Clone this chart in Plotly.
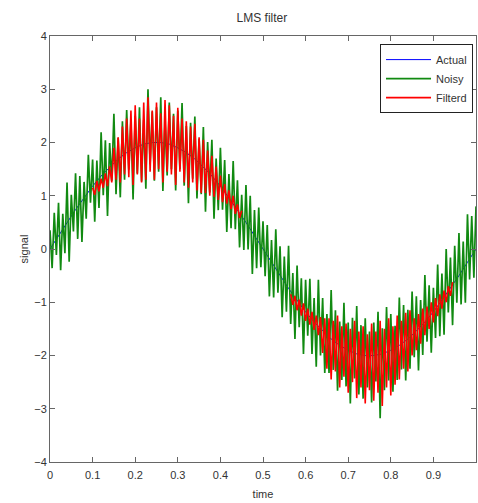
import plotly.graph_objects as go

# time grid (step 0.005)
time = [round(i * 0.005, 3) for i in range(201)]

# Actual (mostly hidden under the noisy trace), read every 0.02
actual_t = [round(i * 0.02, 2) for i in range(51)]
actual = [0.00, 0.25, 0.50, 0.74, 0.96, 1.18, 1.37, 1.54, 1.69, 1.81, 1.90, 1.97, 2.00,
          2.00, 1.97, 1.90, 1.81, 1.69, 1.54, 1.37, 1.18, 0.96, 0.74, 0.50, 0.25, 0.00,
          -0.25, -0.50, -0.74, -0.96, -1.18, -1.37, -1.54, -1.69, -1.81, -1.90, -1.97, -2.00,
          -2.00, -1.97, -1.90, -1.81, -1.69, -1.54, -1.37, -1.18, -0.96, -0.74, -0.50, -0.25, 0.00]

noisy = [
    0.35, -0.36, 0.68, -0.11, 0.87, -0.40, 0.66, -0.08, 1.25, -0.24,
    1.02, 0.33, 1.42, 0.19, 1.37, 0.13, 1.26, 0.57, 1.77, 0.87,
    1.68, 0.51, 1.66, 0.77, 2.19, 1.01, 2.04, 0.62, 1.99, 1.28,
    2.54, 1.03, 2.09, 0.97, 2.40, 1.30, 2.61, 1.49, 2.41, 0.93,
    2.50, 1.42, 2.66, 1.27, 2.42, 1.13, 3.00, 1.59, 2.58, 1.28,
    2.66, 1.45, 2.85, 1.09, 2.40, 1.38, 2.75, 1.50, 2.54, 1.10,
    2.60, 1.50, 2.74, 1.19, 2.31, 0.86, 2.37, 1.32, 2.49, 0.95,
    2.07, 1.03, 2.29, 0.70, 2.01, 1.06, 2.05, 0.57, 1.70, 0.73,
    1.90, 0.74, 1.67, 0.32, 1.41, 0.39, 1.65, 0.37, 1.29, 0.03,
    1.02, -0.02, 1.20, -0.01, 1.00, -0.47, 0.73, -0.36, 0.78, -0.34,
    0.52, -0.51, 0.45, -0.89, 0.17, -0.91, 0.37, -0.82, 0.05, -1.28,
    -0.14, -1.18, 0.06, -1.41, -0.45, -1.69, -0.31, -1.47, -0.55, -1.97,
    -0.58, -1.63, -0.56, -1.97, -0.92, -2.21, -0.58, -2.00, -0.92, -2.33,
    -1.22, -2.33, -0.77, -2.27, -1.15, -2.66, -1.36, -2.46, -1.01, -2.58,
    -1.38, -2.90, -1.29, -2.43, -1.07, -2.73, -1.43, -2.81, -1.30, -2.60,
    -1.55, -2.88, -1.38, -2.49, -1.18, -3.18, -1.49, -2.65, -1.09, -2.47,
    -1.22, -2.68, -1.44, -2.46, -0.91, -2.26, -1.05, -2.47, -1.14, -2.25,
    -0.80, -2.03, -0.89, -2.28, -0.96, -1.99, -0.49, -1.74, -0.68, -1.95,
    -0.73, -1.67, -0.29, -1.64, -0.46, -1.61, 0.00, -1.19, -0.16, -1.43,
    0.06, -1.01, 0.30, -1.04, 0.14, -1.01, 0.65, -0.57, 0.62, -0.54,
    0.80,
]

N = None
filtered = [N] * 20 + [
    1.15, 1.02, 1.28, 1.08, 1.32, 1.15, 1.42, 1.18, 1.55, 1.25,
    1.90, 1.30, 2.10, 1.25, 2.30, 1.40, 2.45, 1.35, 2.60, 1.20,
    2.70, 1.40, 2.45, 1.25, 2.75, 1.30, 2.85, 1.45, 2.60, 1.30,
    2.75, 1.50, 2.55, 1.25, 2.80, 1.45, 2.70, 1.40, 2.50, 1.20,
    2.65, 1.45, 2.45, 1.25, 2.40, 1.15, 2.30, 1.25, 2.35, 1.10,
    2.10, 1.05, 2.05, 1.05, 1.85, 1.00, 1.75, 0.98, 1.55, 0.92,
    1.38, 0.88, 1.22, 0.85, 1.10, 0.75, 1.00, 0.66, 0.84, 0.58,
    0.72,
] + [N] * 22 + [
    -0.85, -1.05, -0.88, -1.15, -0.95, -1.25, -1.02,
    -1.35, -1.12, -1.42, -1.18, -1.52, -1.25, -1.62, -1.28, -1.95, -1.30,
    -2.25, -1.30, -2.45, -1.35, -2.30, -1.25, -2.60, -1.45, -2.40, -1.40,
    -2.70, -1.50, -2.50, -1.35, -2.80, -1.55, -2.60, -1.45, -2.90, -1.60,
    -2.65, -1.40, -2.85, -1.55, -2.70, -1.35, -2.95, -1.50, -2.60, -1.30,
    -2.75, -1.45, -2.55, -1.25, -2.45, -1.35, -2.25, -1.20, -2.30, -1.15,
    -2.00, -1.30, -1.90, -1.22, -1.78, -1.12, -1.62, -1.08, -1.50, -1.00,
    -1.38, -0.92, -1.26, -0.85, -1.12, -0.78, -1.00, -0.70, -0.88, -0.62,
]
filtered = filtered + [N] * (len(time) - len(filtered))

x_ticks = [0, 0.1, 0.2, 0.3, 0.4, 0.5, 0.6, 0.7, 0.8, 0.9, 1]
x_labels = ["0", "0.1", "0.2", "0.3", "0.4", "0.5", "0.6", "0.7", "0.8", "0.9", "1"]
y_ticks = [-4, -3, -2, -1, 0, 1, 2, 3, 4]

FONT = "Liberation Sans Narrow, Liberation Sans, Arial, sans-serif"

fig = go.Figure()
fig.add_trace(go.Scatter(x=actual_t, y=actual, mode="lines", name="Actual",
                         line=dict(color="#0000ff", width=1)))
fig.add_trace(go.Scatter(x=time, y=noisy, mode="lines", name="Noisy",
                         line=dict(color="#118a11", width=1.7)))
fig.add_trace(go.Scatter(x=time, y=filtered, mode="lines", name="Filterd",
                         line=dict(color="#ff0000", width=1.6), connectgaps=False))

axis_common = dict(showgrid=False, zeroline=False, showline=True, linecolor="#666666",
                   linewidth=1, mirror="ticks", ticks="inside", ticklen=5,
                   tickcolor="#666666", automargin=False,
                   tickfont=dict(size=11, color="#333333", family=FONT))

fig.update_layout(
    width=478, height=503,
    margin=dict(l=50, r=2, t=36, b=41),
    paper_bgcolor="white", plot_bgcolor="white",
    font=dict(family=FONT, size=11, color="#333333"),
    title=dict(text="LMS filter", x=0.548, xanchor="center", y=0.964, yanchor="middle",
               font=dict(size=12, color="#333333", family=FONT)),
    xaxis=dict(range=[0, 1], tickvals=x_ticks, ticktext=x_labels, ticklabelstandoff=3,
               title=dict(text="time", standoff=10, font=dict(size=11)), **axis_common),
    yaxis=dict(range=[-4, 4], tickvals=y_ticks,
               title=dict(text="signal", standoff=3, font=dict(size=11)), **axis_common),
    legend=dict(x=0.993, y=0.981, xanchor="right", yanchor="top",
                bgcolor="white", bordercolor="#222222", borderwidth=1,
                font=dict(size=11, color="#333333", family=FONT),
                tracegroupgap=0, itemwidth=45),
    showlegend=True,
)

# remove the default 8px page margin so the 478x503 figure fills the window
fig.write_html("out.html", config={"displayModeBar": False},
               post_script="document.body.style.margin='0';")
